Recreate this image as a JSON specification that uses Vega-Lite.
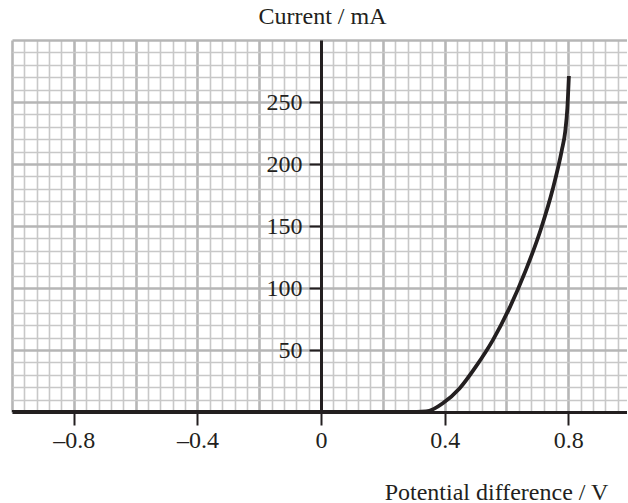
{
  "$schema": "https://vega.github.io/schema/vega-lite/v6.json",
  "autosize": "none",
  "width": 615,
  "height": 372,
  "padding": {"left": 12, "top": 40, "right": 0, "bottom": 91},
  "background": "white",
  "config": {"view": {"stroke": null}},
  "data": {"values": [
    {"v": -1.0, "i": 0}, {"v": 0.31, "i": 0}, {"v": 0.34, "i": 0.4}, {"v": 0.365, "i": 2.5},
    {"v": 0.394, "i": 7}, {"v": 0.448, "i": 19}, {"v": 0.502, "i": 37},
    {"v": 0.556, "i": 58}, {"v": 0.61, "i": 84}, {"v": 0.662, "i": 114},
    {"v": 0.712, "i": 148}, {"v": 0.75, "i": 180}, {"v": 0.779, "i": 211},
    {"v": 0.79, "i": 226}, {"v": 0.797, "i": 245}, {"v": 0.802, "i": 271}
  ]},
  "mark": {"type": "line", "interpolate": "monotone", "color": "#231f20", "strokeWidth": 3.8, "strokeCap": "butt", "clip": true},
  "encoding": {
    "x": {
      "field": "v", "type": "quantitative",
      "scale": {"domain": [-1, 0.99], "nice": false, "zero": false},
      "axis": {
        "values": [-1, -0.96, -0.92, -0.88, -0.84, -0.8, -0.76, -0.72, -0.68, -0.64, -0.6, -0.56, -0.52, -0.48, -0.44, -0.4, -0.36, -0.32, -0.28, -0.24, -0.2, -0.16, -0.12, -0.08, -0.04, 0, 0.04, 0.08, 0.12, 0.16, 0.2, 0.24, 0.28, 0.32, 0.36, 0.4, 0.44, 0.48, 0.52, 0.56, 0.6, 0.64, 0.68, 0.72, 0.76, 0.8, 0.84, 0.88, 0.92, 0.96],
        "grid": true,
        "gridColor": {"condition": {"test": "abs(datum.value*5 - round(datum.value*5)) < 0.001", "value": "#b6b6b6"}, "value": "#c8c8c8"},
        "gridWidth": {"condition": {"test": "abs(datum.value*5 - round(datum.value*5)) < 0.001", "value": 2.6}, "value": 1.6},
        "gridOpacity": 1,
        "domain": true, "domainColor": "#231f20", "domainWidth": 3,
        "ticks": true, "tickColor": "#231f20", "tickWidth": 2, "tickSize": 13,
        "tickOpacity": {"condition": {"test": "abs(datum.value/0.4 - round(datum.value/0.4)) < 0.001 && abs(datum.value) < 0.9", "value": 1}, "value": 0},
        "labelExpr": "abs(datum.value/0.4 - round(datum.value/0.4)) < 0.001 && abs(datum.value) < 0.9 ? (abs(datum.value) < 0.001 ? '0' : (datum.value < 0 ? '–' + format(-datum.value, '.1f') : format(datum.value, '.1f'))) : ''",
        "labelFont": "Liberation Serif", "labelFontSize": 24, "labelColor": "#231f20",
        "labelPadding": 3, "labelOverlap": false, "labelFlush": false, "labelBound": false,
        "title": "Potential difference / V",
        "titleFont": "Liberation Serif", "titleFontSize": 24, "titleFontWeight": "normal", "titleColor": "#231f20",
        "titleX": 484, "titleY": 87, "titleAlign": "center", "titleBaseline": "alphabetic", "titleAnchor": null
      }
    },
    "y": {
      "field": "i", "type": "quantitative",
      "scale": {"domain": [0, 300], "nice": false},
      "axis": {
        "values": [0, 10, 20, 30, 40, 50, 60, 70, 80, 90, 100, 110, 120, 130, 140, 150, 160, 170, 180, 190, 200, 210, 220, 230, 240, 250, 260, 270, 280, 290, 300],
        "offset": -309,
        "grid": true,
        "gridColor": {"condition": {"test": "datum.value % 50 == 0", "value": "#b6b6b6"}, "value": "#c8c8c8"},
        "gridWidth": {"condition": {"test": "datum.value % 50 == 0", "value": 2.6}, "value": 1.6},
        "gridOpacity": 1,
        "domain": true, "domainColor": "#231f20", "domainWidth": 3,
        "ticks": true, "tickColor": "#231f20", "tickWidth": 2, "tickSize": 12,
        "tickOpacity": {"condition": {"test": "datum.value % 50 == 0 && datum.value > 0 && datum.value < 300", "value": 1}, "value": 0},
        "labelExpr": "datum.value % 50 == 0 && datum.value > 0 && datum.value < 300 ? format(datum.value, 'd') : ''",
        "labelFont": "Liberation Serif", "labelFontSize": 24, "labelColor": "#231f20",
        "labelPadding": 7, "labelOverlap": false, "labelFlush": false, "labelBound": false,
        "labelBaseline": "middle", "labelAlign": "right",
        "title": "Current / mA",
        "titleFont": "Liberation Serif", "titleFontSize": 24, "titleFontWeight": "normal", "titleColor": "#231f20",
        "titleAngle": 0, "titleX": 1, "titleY": -17, "titleAlign": "center", "titleBaseline": "alphabetic", "titleAnchor": null
      }
    }
  }
}
